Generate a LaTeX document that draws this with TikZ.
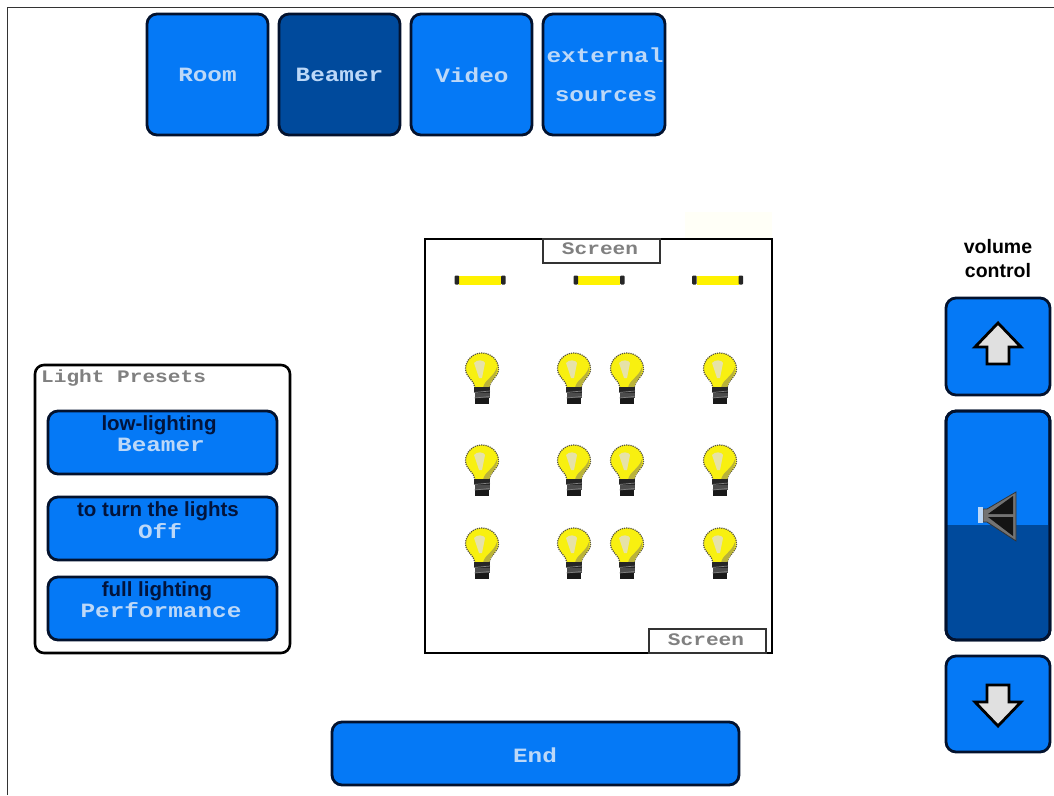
\documentclass[tikz,border=0pt]{standalone}
\usepackage{fontspec}
\setmainfont{Liberation Sans}
\newfontfamily\pixfont{Liberation Mono}[FakeStretch=1.2]
\definecolor{btnblue}{HTML}{0579F6}
\definecolor{btndark}{HTML}{004A9C}
\definecolor{btnline}{HTML}{03122E}
\definecolor{pale}{HTML}{BCD8F8}
\definecolor{screengray}{HTML}{808080}
\definecolor{bulbyel}{HTML}{F8F010}
\definecolor{bulbshade}{HTML}{B9B23A}
\definecolor{bulbglow}{HTML}{E6E2A8}
\definecolor{navytext}{HTML}{02143C}
\definecolor{tint}{HTML}{FFFFF7}
\tikzset{
  x=1pt,y=-1pt,
  btn/.style={draw=btnline,line width=2.8pt,rounded corners=10pt,fill=btnblue},
  btnd/.style={btn,fill=btndark},
  lbl/.style={font=\pixfont\bfseries\fontsize{20.3}{22}\selectfont,text=pale,inner sep=0pt},
  lblb/.style={font=\bfseries\fontsize{20.5}{22}\selectfont,text=navytext,inner sep=0pt},
  scr/.style={font=\pixfont\bfseries\fontsize{17.6}{19}\selectfont,text=screengray,inner sep=0pt},
  frame/.style={draw=black,line width=2.8pt},
  arrowshape/.style={draw=black,line width=2.8pt,fill=black!12,line join=miter},
  bulb/.pic={
    \fill[bulbyel,draw=black!75!yellow,line width=1.2pt,densely dotted]
      (-7,14) .. controls (-7,7) and (-16.5,3) .. (-16.5,-5)
      .. controls (-16.5,-14) and (-9,-21) .. (0,-21)
      .. controls (9,-21) and (16.5,-14) .. (16.5,-5)
      .. controls (16.5,3) and (7,7) .. (7,14) -- cycle;
    \fill[bulbshade] (1,14) .. controls (2,6) and (12,3) .. (15,-7) .. controls (16,3) and (7,7) .. (7,14) -- cycle;
    \fill[bulbglow] (-3,4) -- (-8,-11) .. controls (-5,-15) and (2,-14) .. (3,-11) -- (0,4) -- cycle;
    \fill[black!85] (-8,13) rectangle (8,19);
    \fill[black!70] (-7.5,19) rectangle (7.5,24);
    \fill[black!90] (-7,24) rectangle (7,30);
    \draw[white!50!black,line width=.7pt] (-8,18.5) -- (8,17) (-7.5,24) -- (7.5,22.5);
  },
  tube/.pic={
    \fill[yellow] (-21,-4.5) rectangle (21,4.5);
    \fill[black!85,rounded corners=1pt] (-25.5,-4.5) rectangle (-21,4.5);
    \fill[black!85,rounded corners=1pt] (21,-4.5) rectangle (25.5,4.5);
  }
}
\begin{document}
\begin{tikzpicture}
\useasboundingbox (0,0) rectangle (1054,795);
\fill[white] (0,0) rectangle (1054,795);
\fill[tint] (685,212) rectangle (772,238);
% window edge
\draw[black!80,line width=1pt] (7.5,795) -- (7.5,7.5) -- (1054,7.5);
% tabs
\draw[btn] (147,14) rectangle (268,135);
\draw[btnd] (279,14) rectangle (400,135);
\draw[btn] (411,14) rectangle (532,135);
\draw[btn] (543,14) rectangle (665,135);
\node[lbl] (troom) at (207.5,75) {Room};
\node[lbl] (tbeamer) at (339.5,75) {Beamer};
\node[lbl] (tvideo) at (472,75) {Video};
\node[lbl] (text1) at (605,55) {external};
\node[lbl] (text2) at (606,96) {sources};
% room plan
\draw[frame] (425,239) rectangle (772,653);
\draw[draw=black!80,line width=1.6pt,fill=white] (543,239) rectangle (660,263);
\node[scr] (s1) at (600,249) {Screen};
\draw[draw=black!80,line width=1.6pt,fill=white] (649,629) rectangle (766,653);
\node[scr] (s2) at (706,640) {Screen};
\pic at (480,280) {tube};
\pic at (599,280) {tube};
\pic at (717.5,280) {tube};
\foreach \yy in {374,466,549}{
  \foreach \xx in {482,574,627,720}{
    \pic at (\xx,\yy) {bulb};
  }
}
% presets
\draw[draw=black,line width=2.6pt,fill=white,rounded corners=9pt] (35,365) rectangle (290,653);
\node[scr,anchor=west] (lp) at (41,378) {Light Presets};
\draw[btn] (48,411) rectangle (277,474);
\node[lblb] (p1a) at (159,425) {low-lighting};
\node[lbl] (p1b) at (161,445) {Beamer};
\draw[btn] (48,497) rectangle (277,560);
\node[lblb] (p2a) at (158,511) {to turn the lights};
\node[lbl] (p2b) at (160,531) {Off};
\draw[btn] (48,577) rectangle (277,640);
\node[lblb] (p3a) at (157,591) {full lighting};
\node[lbl] (p3b) at (161,610) {Performance};
% end
\draw[btn] (332,722) rectangle (739,785);
\node[lbl] (tend) at (535,755) {End};
% volume
\node[font=\bfseries\fontsize{19.5}{24}\selectfont,align=center,inner sep=0pt] (vc) at (998,259) {volume\\control};
\draw[btn] (946,298) rectangle (1050,395);
\draw[arrowshape] (998,323) -- (1021,347) -- (1009,347) -- (1009,364) -- (987,364) -- (987,347) -- (975,347) -- cycle;
\draw[btn,fill=btndark] (946,411) rectangle (1050,640);
\begin{scope}
  \clip[rounded corners=9pt] (947.5,412.5) rectangle (1048.5,638.5);
  \fill[btnblue] (947,412) rectangle (1049,525);
\end{scope}
\draw[draw=btnline,line width=2.8pt,rounded corners=10pt] (946,411) rectangle (1050,640);
% speaker
\fill[black!55,draw=black!80,line width=.8pt] (1016,492) -- (1016,541) -- (987,522) -- (983,522) -- (983,509) -- (987,509) -- cycle;
\fill[black!92] (1013,496) -- (1013,514) -- (988,514) -- cycle;
\fill[black!92] (1013,536) -- (1013,517) -- (988,517) -- cycle;
\fill[pale] (978,507) rectangle (983,523);
\draw[btn] (946,656) rectangle (1050,752);
\draw[arrowshape] (998,726) -- (1021,702) -- (1009,702) -- (1009,685) -- (987,685) -- (987,702) -- (975,702) -- cycle;
\end{tikzpicture}
\end{document}
